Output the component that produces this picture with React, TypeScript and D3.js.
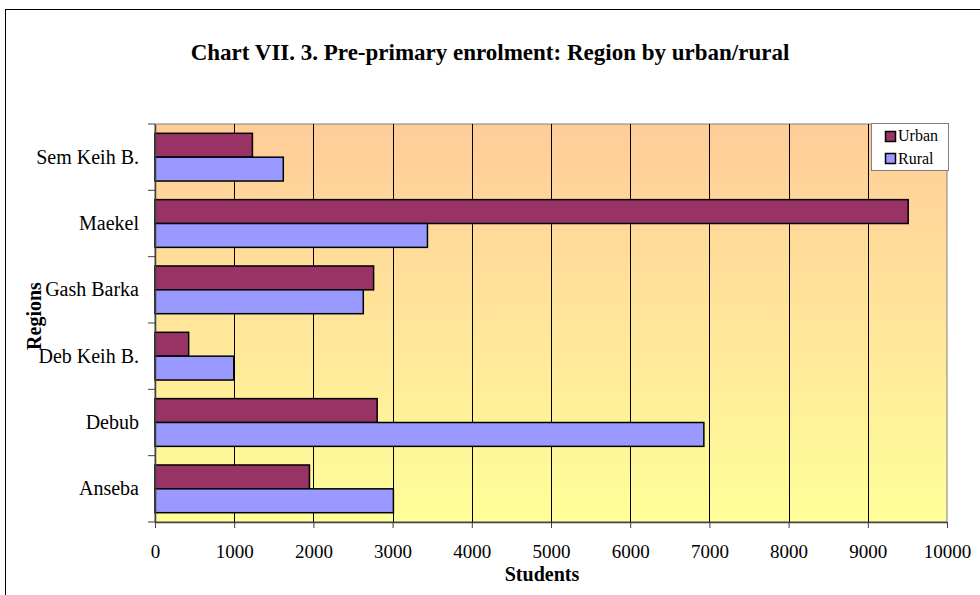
import React, { useEffect, useRef } from 'react';
import * as d3 from 'd3';

const regions = ['Sem Keih B.', 'Maekel', 'Gash Barka', 'Deb Keih B.', 'Debub', 'Anseba'];
const urban = [1230, 9510, 2760, 425, 2805, 1950];
const rural = [1620, 3440, 2630, 995, 6930, 3010];
const xTicks = [0, 1000, 2000, 3000, 4000, 5000, 6000, 7000, 8000, 9000, 10000];
const seriesNames = ['Urban', 'Rural'];
const seriesColors = ['#993366', '#9999FF'];

export default function App() {
  const ref = useRef<SVGSVGElement>(null);

  useEffect(() => {
    const svg = d3.select(ref.current);
    svg.selectAll('*').remove();

    const font = '"Liberation Serif", "Times New Roman", serif';
    const margin = { top: 124, left: 155 };
    const width = 947 - 155;
    const height = 522 - 124;

    // outer frame
    svg.append('rect')
      .attr('x', 5.5).attr('y', 9.5)
      .attr('width', 990).attr('height', 600)
      .attr('fill', '#fff').attr('stroke', '#000');

    // title
    svg.append('text')
      .attr('x', 490).attr('y', 60)
      .attr('text-anchor', 'middle')
      .style('font-family', font).style('font-weight', 'bold').style('font-size', '23px')
      .text('Chart VII. 3. Pre-primary enrolment: Region by urban/rural');

    const defs = svg.append('defs');
    const grad = defs.append('linearGradient')
      .attr('id', 'bg').attr('x1', 0).attr('y1', 0).attr('x2', 0).attr('y2', 1);
    grad.append('stop').attr('offset', '0%').attr('stop-color', '#FFCC99');
    grad.append('stop').attr('offset', '100%').attr('stop-color', '#FFFF99');

    const g = svg.append('g').attr('transform', `translate(${margin.left},${margin.top})`);

    const x = d3.scaleLinear().domain([0, 10000]).range([0, width]);
    const y = d3.scaleBand().domain(regions).range([0, height]).paddingInner(0).paddingOuter(0);
    const inner = d3.scaleBand().domain(seriesNames).range([0, y.bandwidth()]).paddingInner(0).paddingOuter(0.39);

    g.append('rect')
      .attr('width', width).attr('height', height)
      .attr('fill', 'url(#bg)').attr('stroke', '#808080');

    // grid lines
    g.selectAll('.grid')
      .data(xTicks.slice(1, -1))
      .enter().append('line')
      .attr('x1', d => Math.round(x(d)) + 0.5).attr('x2', d => Math.round(x(d)) + 0.5)
      .attr('y1', 0).attr('y2', height)
      .attr('stroke', '#000').attr('stroke-width', 1);

    // bars
    const series = [urban, rural];
    series.forEach((vals, si) => {
      g.selectAll('.bar' + si)
        .data(vals)
        .enter().append('rect')
        .attr('x', 0)
        .attr('y', (d, i) => y(regions[i])! + inner(seriesNames[si])!)
        .attr('width', d => x(d))
        .attr('height', inner.bandwidth())
        .attr('fill', seriesColors[si])
        .attr('stroke', '#000').attr('stroke-width', 1.5);
    });

    // axes
    const xAxis = g.append('g')
      .attr('transform', `translate(0,${height})`)
      .call(d3.axisBottom(x).tickValues(xTicks).tickSize(6).tickSizeOuter(0).tickFormat(d3.format('d')));
    xAxis.select('.domain').attr('stroke', '#404040').attr('stroke-width', 1.5);
    xAxis.selectAll('.tick line').attr('stroke', '#404040');
    xAxis.selectAll('text')
      .attr('dy', 0).attr('y', 36)
      .style('font-family', font).style('font-size', '19px').attr('fill', '#000');

    const yAxis = g.append('g')
      .call(d3.axisLeft(y).tickSize(0).tickSizeOuter(0));
    yAxis.select('.domain').attr('stroke', '#404040').attr('stroke-width', 1.5);
    yAxis.selectAll('text')
      .attr('x', -16)
      .style('font-family', font).style('font-size', '20px').attr('fill', '#000');

    // y tick marks at band edges
    g.selectAll('.ytick')
      .data(d3.range(regions.length + 1))
      .enter().append('line')
      .attr('x1', -7).attr('x2', 0)
      .attr('y1', i => i * y.step()).attr('y2', i => i * y.step())
      .attr('stroke', '#404040');

    // axis titles
    svg.append('text')
      .attr('x', 542).attr('y', 581)
      .attr('text-anchor', 'middle')
      .style('font-family', font).style('font-weight', 'bold').style('font-size', '20px')
      .text('Students');
    svg.append('text')
      .attr('transform', 'translate(41,316) rotate(-90)')
      .attr('text-anchor', 'middle')
      .style('font-family', font).style('font-weight', 'bold').style('font-size', '20px')
      .text('Regions');

    // legend
    const lg = svg.append('g').attr('transform', 'translate(871,123)');
    lg.append('rect')
      .attr('x', 0.5).attr('y', 0.5).attr('width', 77).attr('height', 47)
      .attr('fill', '#fff').attr('stroke', '#808080');
    seriesNames.forEach((name, i) => {
      lg.append('rect')
        .attr('x', 14.5).attr('y', 8.5 + i * 22)
        .attr('width', 10).attr('height', 10)
        .attr('fill', seriesColors[i]).attr('stroke', '#000').attr('stroke-width', 1.5);
      lg.append('text')
        .attr('x', 27).attr('y', 18 + i * 23)
        .style('font-family', font).style('font-size', '16px')
        .text(name);
    });
  }, []);

  return (
    <svg ref={ref} width={980} height={595}
      style={{ position: 'absolute', left: 0, top: 0, background: '#fff' }} />
  );
}
